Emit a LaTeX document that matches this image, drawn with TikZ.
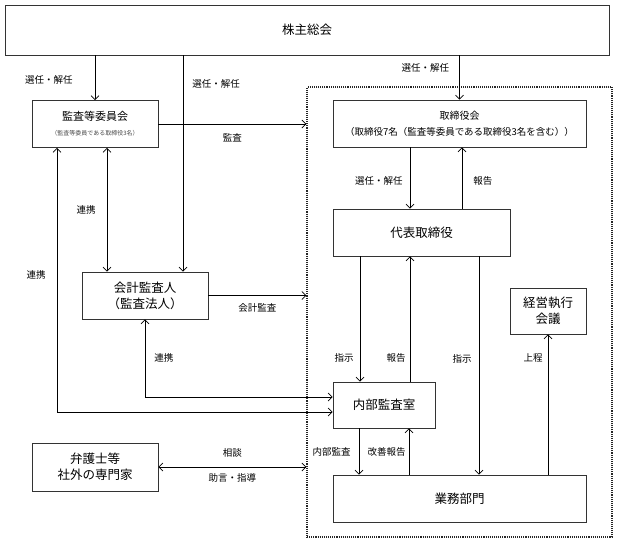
\documentclass[tikz,border=0pt]{standalone}
\usepackage{fontspec}
\setmainfont{Noto Sans CJK JP}
\usetikzlibrary{arrows.meta}

\begin{document}
\begin{tikzpicture}[x=1pt,y=-1pt,line width=0.7pt,
    >={Straight Barb[length=4pt,width=8pt]},
    box/.style={draw=black!80,inner sep=0pt,align=center,font=\fontsize{12.5}{16}\selectfont},
    lbl/.style={inner sep=0pt,font=\fontsize{9.5}{11}\selectfont}]
    \useasboundingbox (0,0) rectangle (617,544);

    \node[draw=black!85,line width=1.1pt,densely dotted,minimum width=305pt,minimum height=450pt] (frame) at (459.5,312) {};

    \node[box,minimum width=604pt,minimum height=50pt] (soukai) at (307,30) {株主総会};
    \node[box,minimum width=126pt,minimum height=47pt] (kansa) at (95,124) {{\fontsize{11}{14}\selectfont 監査等委員会}\\[-1pt]{\fontsize{6}{8}\selectfont\color{black!70}（監査等委員である取締役3名）}};
    \node[box,minimum width=253pt,minimum height=47pt] (torikai) at (459.5,123.5) {{\fontsize{10}{13}\selectfont 取締役会}\\{\fontsize{9.5}{12}\selectfont （取締役7名（監査等委員である取締役3名を含む））}};
    \node[box,minimum width=177pt,minimum height=47pt] (daihyo) at (421.5,232.5) {代表取締役};
    \node[box,minimum width=126pt,minimum height=47pt] (kaikei) at (145,295.5) {会計監査人\\（監査法人）};
    \node[box,minimum width=76pt,minimum height=46pt] (keiei) at (548,311) {経営執行\\会議};
    \node[box,minimum width=102pt,minimum height=46pt] (naibu) at (384,405) {内部監査室};
    \node[box,minimum width=126pt,minimum height=48pt] (bengo) at (95,467) {弁護士等\\社外の専門家};
    \node[box,minimum width=253pt,minimum height=47pt] (gyomu) at (459.5,498.5) {業務部門};
    \coordinate (kaikeitop) at ([xshift=38pt]kaikei.north);

    % from the general meeting
    \path [->] (soukai.south -| kansa.north) edge node[lbl,left=22pt,pos=0.54] {選任・解任} (kansa.north);
    \path [->] (soukai.south -| kaikeitop) edge node[lbl,right=9pt,pos=0.13] {選任・解任} (kaikeitop);
    \path [->] (soukai.south -| torikai.north) edge node[lbl,left=10pt,pos=0.28] {選任・解任} (torikai.north);

    % audit side
    \path [->] (kansa.east) edge node[lbl,below=9pt] {監査} (kansa.east -| frame.west);
    \path [<->] ([xshift=12pt]kansa.south) edge node[lbl,left=11pt] {連携} ([xshift=12pt]kansa.south |- kaikei.north);
    \path [->] (kaikei.east) edge node[lbl,below=8pt] {会計監査} (kaikei.east -| frame.west);
    \draw [<->] ([xshift=-38pt]kansa.south) |- node[lbl,left=11pt,pos=0.24] {連携} ([yshift=-7pt]naibu.west);
    \draw [<->] (kaikei.south) |- node[lbl,right=9pt,pos=0.245] {連携} ([yshift=8pt]naibu.west);
    \path [<->] (bengo.east) edge node[lbl,above=9pt] {相談} node[lbl,below=6pt] {助言・指導} (bengo.east -| frame.west);

    % inside the company
    \path [->] ([xshift=-11.5pt]daihyo.north |- torikai.south) edge node[lbl,left=7pt,pos=0.55] {選任・解任} ([xshift=-11.5pt]daihyo.north);
    \path [->] ([xshift=40.5pt]daihyo.north) edge node[lbl,right=11pt,pos=0.45] {報告} ([xshift=40.5pt]daihyo.north |- torikai.south);
    \path [->] ([xshift=-24pt]naibu.north |- daihyo.south) edge node[lbl,left=6pt,pos=0.81] {指示} ([xshift=-24pt]naibu.north);
    \path [->] ([xshift=26pt]naibu.north) edge node[lbl,left=4pt,pos=0.19] {報告} ([xshift=26pt]naibu.north |- daihyo.south);
    \path [->] ([xshift=57.5pt]daihyo.south) edge node[lbl,left=7pt,pos=0.47] {指示} ([xshift=57.5pt]daihyo.south |- gyomu.north);
    \path [->] (gyomu.north -| keiei.south) edge node[lbl,left=5pt,pos=0.83] {上程} (keiei.south);
    \path [->] ([xshift=-25pt]naibu.south) edge node[lbl,left=8pt] {内部監査} ([xshift=-25pt]naibu.south |- gyomu.north);
    \path [->] ([xshift=25pt]naibu.south |- gyomu.north) edge node[lbl,left=3pt] {改善報告} ([xshift=25pt]naibu.south);
\end{tikzpicture}
\end{document}
